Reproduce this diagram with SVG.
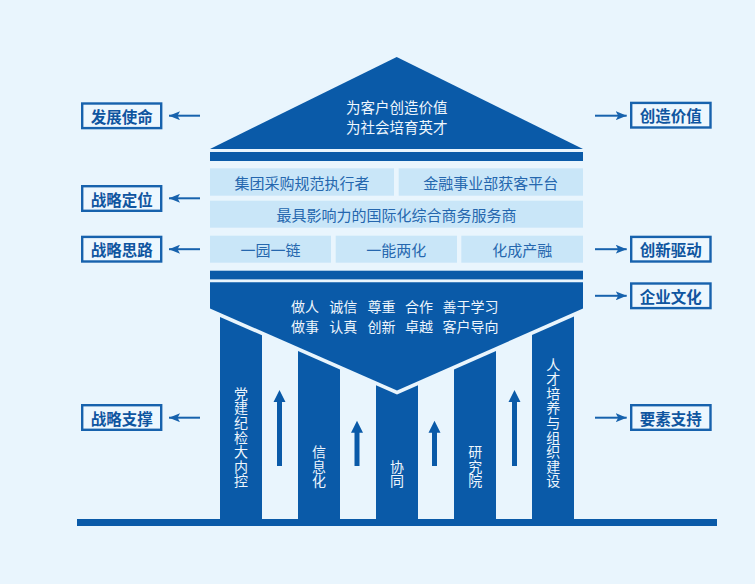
<svg xmlns="http://www.w3.org/2000/svg" width="755" height="584" viewBox="0 0 755 584">
<defs>
<style>
.bg{fill:#e9f5fd}
.dk{fill:#0a5aa8}
.row{fill:#c9e6f8}
.rt{font-family:"Noto Sans CJK SC","Noto Sans",sans-serif;font-size:15px;fill:#2567ae;text-anchor:middle;dominant-baseline:central}
.wt{font-family:"Noto Sans CJK SC","Noto Sans",sans-serif;fill:#eef6fd;text-anchor:middle;dominant-baseline:central}
.ct{font-family:"Noto Sans CJK SC","Noto Sans",sans-serif;font-size:14px;fill:#eef6fd;text-anchor:start;dominant-baseline:central}
.lb rect{fill:#edf7fe;stroke:#1762ad;stroke-width:2.4}
.lb text{font-family:"Noto Sans CJK SC","Noto Sans",sans-serif;font-size:15.5px;font-weight:700;fill:#0f55a0;text-anchor:middle;dominant-baseline:central}
.cn line{stroke:#1762ad;stroke-width:2;marker-end:url(#ah)}
.pt{font-family:"Noto Sans CJK SC","Noto Sans",sans-serif;font-size:14px;fill:#eef6fd;writing-mode:vertical-rl;text-orientation:upright;letter-spacing:0.6px;text-anchor:start}
</style>
<marker id="ah" markerUnits="userSpaceOnUse" markerWidth="12" markerHeight="9" refX="11" refY="4.5" orient="auto">
<path d="M0,0 L11,4.5 L0,9 L2.5,4.5 z" fill="#1762ad"/>
</marker>
</defs>
<rect class="bg" x="0" y="0" width="755" height="584"/>

<g id="roof">
<polygon class="dk" points="396.7,57 583,149 210,149"/>
<rect class="dk" x="210" y="152" width="373" height="9"/>
<text class="wt" font-size="14.5" x="396.7" y="106">为客户创造价值</text>
<text class="wt" font-size="14.5" x="396.7" y="126.3">为社会培育英才</text>
</g>

<g id="positioning">
<rect class="row" x="210" y="168.3" width="184" height="27.4"/>
<text class="rt" x="302" y="182.5">集团采购规范执行者</text>
<rect class="row" x="398.7" y="168.3" width="184.3" height="27.4"/>
<text class="rt" x="490.8" y="182.5">金融事业部获客平台</text>
<rect class="row" x="210" y="200.7" width="373" height="27"/>
<text class="rt" x="396.5" y="214.3">最具影响力的国际化综合商务服务商</text>
</g>

<g id="strategy">
<rect class="row" x="210" y="235.7" width="121" height="27"/>
<text class="rt" x="270.5" y="249.2">一园一链</text>
<rect class="row" x="335.7" y="235.7" width="121.3" height="27"/>
<text class="rt" x="396.3" y="249.2">一能两化</text>
<rect class="row" x="461.3" y="235.7" width="121.7" height="27"/>
<text class="rt" x="522.2" y="249.2">化成产融</text>
<rect class="dk" x="210" y="270.7" width="373" height="8.7"/>
</g>

<g id="pillars">
<polygon class="dk" points="220,316.9 262,335.3 262,519 220,519"/>
<polygon class="dk" points="298,351.1 340,369.5 340,519 298,519"/>
<polygon class="dk" points="376,385.3 397,394.5 418,385.2 418,519 376,519"/>
<polygon class="dk" points="454,369.4 496,350.9 496,519 454,519"/>
<polygon class="dk" points="532,335 574,316.5 574,519 532,519"/>
<rect class="dk" x="77" y="519" width="640" height="7"/>
<text class="pt" x="241" y="386.4">党建纪检大内控</text>
<text class="pt" x="319" y="444.8">信息化</text>
<text class="pt" x="397" y="459.4">协同</text>
<text class="pt" x="475.3" y="444.8">研究院</text>
<text class="pt" x="553.3" y="357.2">人才培养与组织建设</text>
<polygon class="dk" points="277,466 277,402 273.5,402 279.5,390 285.5,402 282,402 282,466"/>
<polygon class="dk" points="354.5,466 354.5,432.7 351,432.7 357,420.7 363,432.7 359.5,432.7 359.5,466"/>
<polygon class="dk" points="432,466 432,432.7 428.5,432.7 434.5,420.7 440.5,432.7 437,432.7 437,466"/>
<polygon class="dk" points="512,466 512,402 508.5,402 514.5,390 520.5,402 517,402 517,466"/>
</g>

<g id="culture">
<polygon class="dk" points="210,282.3 583,282.3 583,308.5 397,390.5 210,308.5"/>
<text class="ct" y="306"><tspan x="291">做人</tspan><tspan x="329.3">诚信</tspan><tspan x="367.6">尊重</tspan><tspan x="405">合作</tspan><tspan x="442.6">善于学习</tspan></text>
<text class="ct" y="325.5"><tspan x="291">做事</tspan><tspan x="329.3">认真</tspan><tspan x="367.6">创新</tspan><tspan x="405">卓越</tspan><tspan x="442.6">客户导向</tspan></text>
</g>

<g id="label-mission" class="lb"><rect x="82.2" y="103.5" width="79" height="24.6"/><text x="121.7" y="115.8">发展使命</text></g>
<g id="label-position" class="lb"><rect x="82.2" y="186.2" width="79" height="24.6"/><text x="121.7" y="198.5">战略定位</text></g>
<g id="label-thinking" class="lb"><rect x="82.2" y="236.9" width="79" height="24.6"/><text x="121.7" y="249.2">战略思路</text></g>
<g id="label-support" class="lb"><rect x="82.2" y="405.2" width="79" height="24.6"/><text x="121.7" y="417.5">战略支撑</text></g>
<g id="label-value" class="lb"><rect x="631.2" y="102.9" width="79.3" height="24.6"/><text x="670.8" y="115.2">创造价值</text></g>
<g id="label-innovation" class="lb"><rect x="631.2" y="236.9" width="79.3" height="24.6"/><text x="670.8" y="249.2">创新驱动</text></g>
<g id="label-culture" class="lb"><rect x="631.2" y="283.5" width="79.3" height="24.6"/><text x="670.8" y="295.8">企业文化</text></g>
<g id="label-factors" class="lb"><rect x="631.2" y="405.2" width="79.3" height="24.6"/><text x="670.8" y="417.5">要素支持</text></g>

<g id="connectors" class="cn">
<line x1="200" y1="115.7" x2="169" y2="115.7"/>
<line x1="200" y1="198.3" x2="169" y2="198.3"/>
<line x1="200" y1="249.2" x2="169" y2="249.2"/>
<line x1="200" y1="417.7" x2="169" y2="417.7"/>
<line x1="595" y1="115.7" x2="626.7" y2="115.7"/>
<line x1="595" y1="249.2" x2="626.7" y2="249.2"/>
<line x1="595" y1="295.8" x2="626.7" y2="295.8"/>
<line x1="595" y1="417.7" x2="626.7" y2="417.7"/>
</g>
</svg>
